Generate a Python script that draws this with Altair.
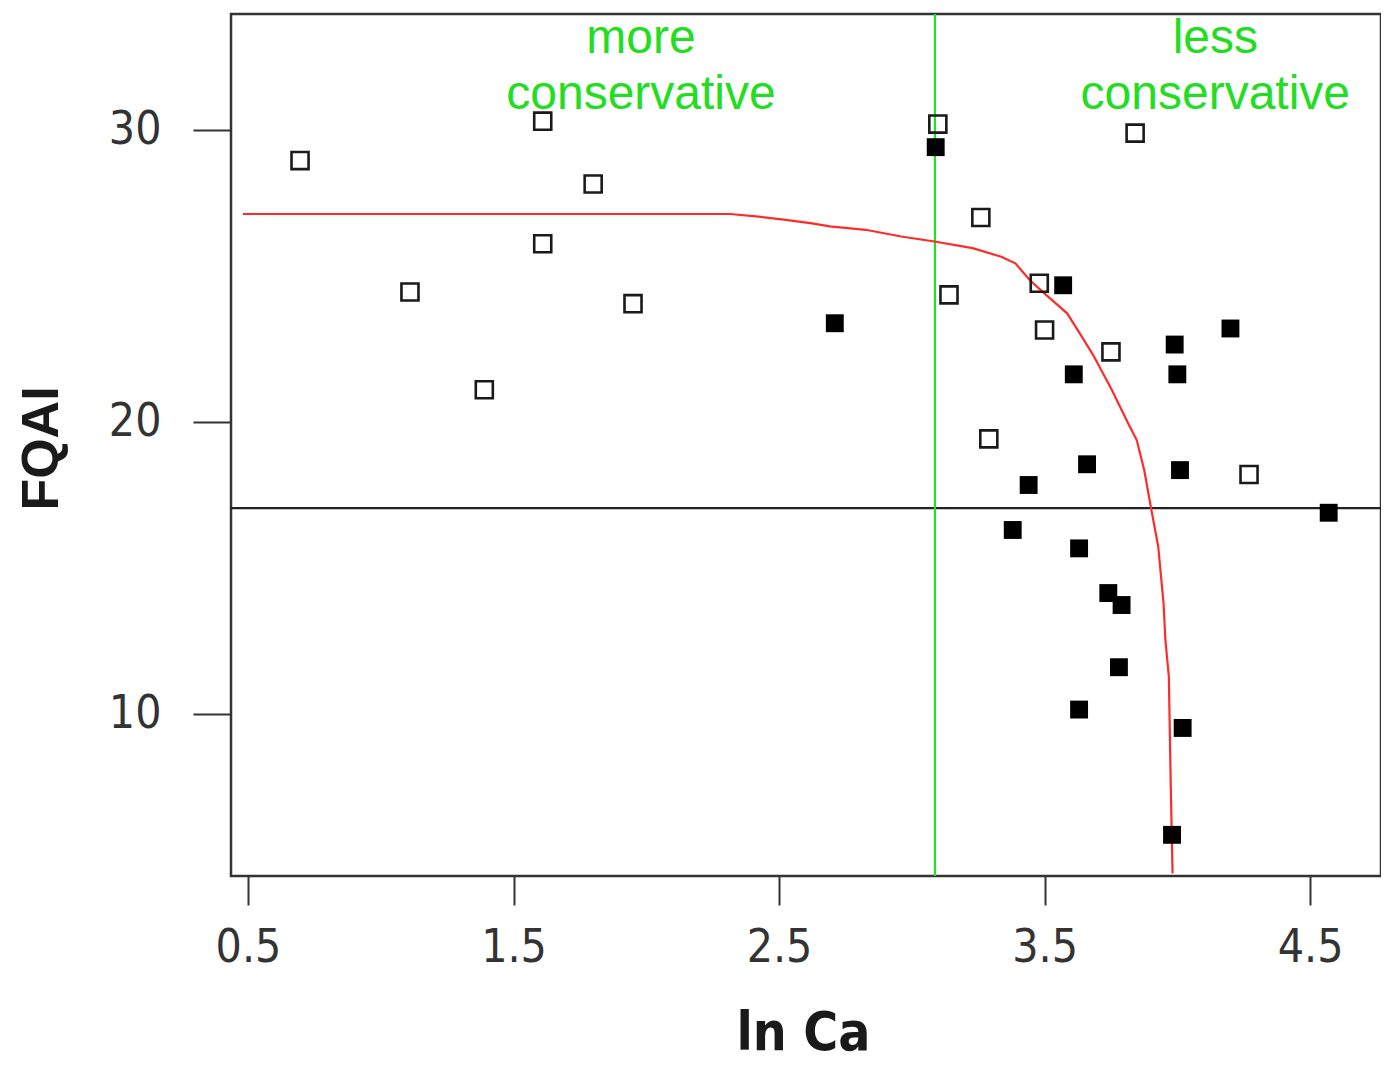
import altair as alt
import pandas as pd

# open squares
open_x = [0.696, 1.61, 1.80, 1.61, 1.11, 1.95, 1.39, 3.098, 3.26, 3.14, 3.48, 3.50, 3.75, 3.841, 3.29, 4.27]
open_y = [28.95, 30.3, 28.15, 26.1, 24.45, 24.05, 21.1, 30.2, 27.0, 24.35, 24.75, 23.15, 22.4, 29.89, 19.42, 18.2]
# filled squares
filled_x = [2.71, 3.09, 3.57, 3.61, 3.99, 4.00, 4.20, 3.66, 4.01, 3.44, 3.38, 3.63, 3.74, 3.79, 3.78, 3.63, 4.02, 3.98, 4.57]
filled_y = [23.38, 29.41, 24.68, 21.63, 22.65, 21.63, 23.2, 18.55, 18.35, 17.84, 16.3, 15.67, 14.14, 13.73, 11.6, 10.15, 9.52, 5.86, 16.89]
# red curve
curve_x = [0.481, 2.315, 2.424, 2.526, 2.624, 2.691, 2.826, 2.960, 3.085, 3.229, 3.337, 3.390, 3.444, 3.498,
           3.585, 3.632, 3.686, 3.753, 3.815, 3.847, 3.875, 3.901, 3.928, 3.948, 3.955, 3.968, 3.975, 3.982]
curve_y = [27.12, 27.12, 27.03, 26.92, 26.80, 26.70, 26.58, 26.35, 26.18, 25.95, 25.66, 25.43, 24.86, 24.41,
           23.72, 23.04, 22.24, 21.10, 19.95, 19.38, 18.36, 17.05, 15.73, 13.79, 12.53, 11.28, 7.63, 4.54]
vline_x = [3.087]
hline_y = [17.05]
ann_text = ["more", "conservative", "less", "conservative"]
ann_x = [1.98, 1.98, 4.143, 4.143]
ann_y = [33.1, 31.2, 33.1, 31.2]
x_ticks = [0.5, 1.5, 2.5, 3.5, 4.5]
y_ticks = [10, 20, 30]

XDOM = [0.436, 4.767]
YDOM = [4.45, 33.97]
LABEL_FONT = "DejaVu Sans Condensed, Liberation Sans"

xs = alt.Scale(domain=XDOM, nice=False, zero=False)
ys = alt.Scale(domain=YDOM, nice=False, zero=False)

x_axis = alt.Axis(values=x_ticks, format=".1f", grid=False, domain=False, tickSize=29, tickWidth=2,
                  tickColor="#333", labelFont=LABEL_FONT, labelFontSize=46, labelColor="#333",
                  labelPadding=20, title="ln Ca", titleFont=LABEL_FONT, titleFontSize=53,
                  titleFontWeight="bold", titleColor="#1a1a1a", titleX=572, titleY=157,
                  titleBaseline="middle", titleAlign="center")
y_axis = alt.Axis(values=y_ticks, format="d", grid=False, domain=False, tickSize=38, tickWidth=2,
                  tickColor="#333", labelFont=LABEL_FONT, labelFontSize=46, labelColor="#333",
                  labelPadding=32, title="FQAI", titleFont="Liberation Sans", titleFontSize=52,
                  titleFontWeight="bold", titleColor="#1a1a1a", titleX=-190, titleY=434,
                  titleBaseline="middle", titleAlign="center", titleAngle=270)

open_df = pd.DataFrame({"x": open_x, "y": open_y})
filled_df = pd.DataFrame({"x": filled_x, "y": filled_y})
curve_df = pd.DataFrame({"x": curve_x, "y": curve_y, "o": list(range(len(curve_x)))})
ann_df = pd.DataFrame({"t": ann_text, "x": ann_x, "y": ann_y})

base_open = alt.Chart(open_df).mark_point(shape="square", filled=False, size=290, stroke="#1a1a1a",
                                          strokeWidth=2.6, opacity=1).encode(
    x=alt.X("x:Q", scale=xs, axis=x_axis), y=alt.Y("y:Q", scale=ys, axis=y_axis))
filled = alt.Chart(filled_df).mark_point(shape="square", filled=True, size=320, color="#000",
                                         opacity=1).encode(
    x=alt.X("x:Q", scale=xs), y=alt.Y("y:Q", scale=ys))
curve = alt.Chart(curve_df).mark_line(color="#ff2a2a", strokeWidth=2.2).encode(
    x=alt.X("x:Q", scale=xs), y=alt.Y("y:Q", scale=ys), order="o:Q")
vline = alt.Chart(pd.DataFrame({"x": vline_x})).mark_rule(color="#22e022", strokeWidth=2.2).encode(
    x=alt.X("x:Q", scale=xs))
hline = alt.Chart(pd.DataFrame({"y": hline_y})).mark_rule(color="#222", strokeWidth=2.2).encode(
    y=alt.Y("y:Q", scale=ys))
ann = alt.Chart(ann_df).mark_text(font="Liberation Sans", fontSize=48, color="#22dd22",
                                  baseline="middle", align="center").encode(
    x=alt.X("x:Q", scale=xs), y=alt.Y("y:Q", scale=ys), text="t:N")

chart = alt.layer(hline, vline, curve, base_open, filled, ann).properties(
    width=1150, height=862,
    background="white",
    autosize=alt.AutoSizeParams(type="none"),
    padding={"left": 223, "top": 6, "right": 0, "bottom": 186},
).configure_view(stroke="#333", strokeWidth=2.5)

chart.save("out.html", embed_options={"renderer": "svg", "actions": False})
